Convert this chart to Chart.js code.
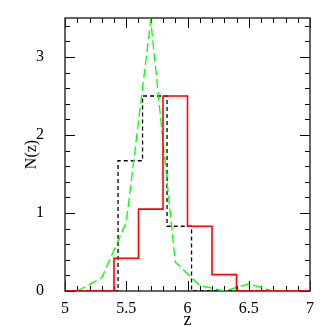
<!DOCTYPE html>
<html lang="en">
<head>
<meta charset="UTF-8">
<title>N(z)</title>
<script src="https://cdn.jsdelivr.net/npm/chart.js"></script>
<style>
    html, body { margin: 0; padding: 0; background: #fff; }
    #wrap { width: 327px; height: 327px; }
</style>
</head>
<body>
<div id="wrap"><canvas id="nzChart"></canvas></div>
<script>
    // red histogram: left bin edges and heights (last entry only closes the step)
    const redEdges = [5.0, 5.4, 5.6, 5.8, 6.0, 6.2, 6.4, 7.0];
    const redCounts = [0, 0.42, 1.05, 2.5, 0.83, 0.21, 0, 0];

    // black dashed histogram, bins shifted by about 0.03
    const blackEdges = [5.0, 5.433, 5.633, 5.833, 6.033, 7.0];
    const blackCounts = [0, 1.67, 2.5, 0.83, 0, 0];

    // green dashed curve at bin centres
    const greenZ = [5.1, 5.3, 5.5, 5.7, 5.9, 6.1, 6.3, 6.5, 6.7, 6.9];
    const greenN = [0, 0.17, 0.88, 3.47, 0.37, 0.07, 0, 0.09, 0, 0];

    // tick labels
    const xTicks = [5, 5.5, 6, 6.5, 7];
    const yTicks = [0, 1, 2, 3];

    const labelFont = { family: "'Liberation Serif', 'DejaVu Serif', serif", size: 16 };

    function toPoints(xs, ys) {
        return xs.map((v, i) => ({ x: v, y: ys[i] }));
    }

    // inward ticks on all four sides plus the frame, drawn under the curves
    const frameTicks = {
        id: 'frameTicks',
        beforeDatasetsDraw(chart) {
            const { ctx, chartArea: a, scales: { x, y } } = chart;
            ctx.save();
            ctx.strokeStyle = '#000';
            ctx.lineWidth = 1;
            ctx.beginPath();
            for (let i = 0; i <= 20; i++) {
                const px = Math.round(x.getPixelForValue(5 + i * 0.1)) + 0.5;
                const len = (i % 5 === 0) ? 10 : 5;
                ctx.moveTo(px, a.bottom); ctx.lineTo(px, a.bottom - len);
                ctx.moveTo(px, a.top); ctx.lineTo(px, a.top + len);
            }
            for (let i = 0; i <= 17; i++) {
                const py = Math.round(y.getPixelForValue(i * 0.2)) + 0.5;
                const len = (i % 5 === 0) ? 10 : 5;
                ctx.moveTo(a.left, py); ctx.lineTo(a.left + len, py);
                ctx.moveTo(a.right, py); ctx.lineTo(a.right - len, py);
            }
            ctx.stroke();
            ctx.strokeStyle = '#333';
            ctx.lineWidth = 1.5;
            ctx.strokeRect(a.left, a.top, a.right - a.left, a.bottom - a.top);
            ctx.restore();
        }
    };

    new Chart(document.getElementById('nzChart'), {
        type: 'line',
        data: {
            datasets: [
                {
                    data: toPoints(redEdges, redCounts),
                    borderColor: '#ff0000',
                    borderWidth: 1.6,
                    stepped: 'before'
                },
                {
                    data: toPoints(greenZ, greenN),
                    borderColor: '#00ff00',
                    borderWidth: 1.3,
                    borderDash: [9, 4]
                },
                {
                    data: toPoints(blackEdges, blackCounts),
                    borderColor: '#000000',
                    borderWidth: 1.3,
                    borderDash: [4, 3],
                    stepped: 'before'
                }
            ]
        },
        options: {
            responsive: true,
            maintainAspectRatio: false,
            animation: false,
            elements: { point: { radius: 0 }, line: { tension: 0 } },
            layout: { padding: { left: 0, right: 17, top: 18, bottom: 0 } },
            plugins: { legend: { display: false }, tooltip: { enabled: false } },
            scales: {
                x: {
                    type: 'linear',
                    min: 5,
                    max: 7,
                    grid: { display: false },
                    border: { display: false },
                    afterBuildTicks: s => { s.ticks = xTicks.map(v => ({ value: v })); },
                    afterFit: s => { s.height = 36; },
                    ticks: { font: labelFont, color: '#000', padding: 0, maxRotation: 0, autoSkip: false,
                             callback: v => String(v) },
                    title: { display: true, text: 'z', font: { ...labelFont, size: 18 }, color: '#000',
                             padding: { top: 0, bottom: -4 } }
                },
                y: {
                    type: 'linear',
                    min: 0,
                    max: 3.5,
                    grid: { display: false },
                    border: { display: false },
                    afterBuildTicks: s => { s.ticks = yTicks.map(v => ({ value: v })); },
                    afterFit: s => { s.width = 65; s.paddingTop = 0; s.paddingBottom = 0; },
                    ticks: { font: labelFont, color: '#000', padding: 13, autoSkip: false,
                             callback: v => String(v) },
                    title: { display: true, text: 'N(z)', font: labelFont, color: '#000', padding: { top: 22, bottom: 0 } }
                }
            }
        },
        plugins: [frameTicks]
    });
</script>
</body>
</html>
